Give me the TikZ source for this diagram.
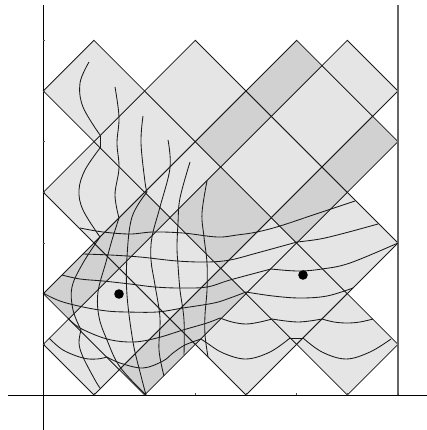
\documentclass[tikz,border=0pt]{standalone}
\begin{document}
\begin{tikzpicture}[x=1pt,y=-1pt,
  axisline/.style={black,line width=0.9pt},
  lightcell/.style={fill=black!10},
  darkcell/.style={fill=black!18},
  wave/.style={black!90,line width=0.85pt,smooth,tension=0.6},
  gridline/.style={black!90,line width=0.8pt}]
\useasboundingbox (0,0) rectangle (427,430);
\def\ux{50.67}
\def\ox{43.3}
\def\oy{395}
% cell in (p,q): p=x+y, q=y-x
\newcommand{\pq}[2]{({\ox+\ux*((#1)-(#2))/2},{\oy-\ux*((#1)+(#2))/2})}
\newcommand{\cell}[5]{\fill[#5] \pq{#1}{#3} -- \pq{#2}{#3} -- \pq{#2}{#4} -- \pq{#1}{#4} -- cycle;
  \draw[gridline] \pq{#1}{#3} -- \pq{#2}{#3} -- \pq{#2}{#4} -- \pq{#1}{#4} -- cycle;}
% light cells
\cell{1}{2}{-1}{1}{lightcell}
\cell{2}{4}{-1}{1}{lightcell}
\cell{4}{6}{-1}{1}{lightcell}
\cell{4}{6}{2}{4}{lightcell}
\cell{6}{8}{2}{4}{lightcell}
\cell{6}{8}{4}{6}{lightcell}
\cell{8}{10}{2}{4}{lightcell}
\cell{8}{10}{-1}{1}{lightcell}
\cell{10}{12}{-1}{1}{lightcell}
\cell{12}{13}{-1}{1}{lightcell}
\cell{6}{8}{1}{2}{lightcell}
\cell{6}{8}{-2}{-1}{lightcell}
\cell{4}{6}{-4}{-2}{lightcell}
\cell{6}{8}{-4}{-2}{lightcell}
\cell{8}{10}{-4}{-2}{lightcell}
\cell{6}{8}{-6}{-4}{lightcell}
% dark cells
\cell{2}{4}{-2}{-1}{darkcell}
\cell{4}{6}{-2}{-1}{darkcell}
\cell{8}{10}{-2}{-1}{darkcell}
\cell{10}{12}{-2}{-1}{darkcell}
\cell{2}{4}{1}{2}{darkcell}
\cell{4}{6}{1}{2}{darkcell}
\cell{8}{10}{1}{2}{darkcell}
\cell{10}{12}{1}{2}{darkcell}
\cell{6}{8}{-1}{1}{darkcell}
% axes
\draw[axisline] (8,395) -- (427,395);
\draw[axisline] (43.3,5) -- (43.3,430);
\draw[black!60,line width=1.2pt] (398,5) -- (398,395);
\foreach \k in {1,...,7}{
  \draw[black!70,line width=0.6pt] ({\ox+\ux*\k},395) -- ({\ox+\ux*\k},393);
  \draw[black!70,line width=0.6pt] (43.3,{\oy-\ux*\k}) -- (45.3,{\oy-\ux*\k});
}
% horizontal-like curves
\draw[wave] plot coordinates {(49,338) (63,350) (83,358) (97,359) (107,357)};
\draw[wave] plot coordinates {(107,357) (120,363) (143,368) (163,361) (173,353) (185,345) (201,339)};
\draw[wave] plot coordinates {(201,339) (207,343) (223,353) (246,359) (270,352) (290,338)};
\draw[gridline] (290,338) -- (303,338);
\draw[wave] plot coordinates {(303,338) (322,352) (346,359) (370,352) (391,339)};
\draw[wave] plot coordinates {(68,318) (80,328) (107,339) (133,342) (157,338) (183,330) (207,323) (220,318)};
\draw[wave] plot coordinates {(220,318) (232,322) (246,324) (260,322) (272,319)};
\draw[wave] plot coordinates {(272,319) (298,322) (322,319)};
\draw[wave] plot coordinates {(322,319) (334,322) (347,323) (360,322) (373,319)};
\draw[wave] plot coordinates {(43,293) (60,301) (83,307) (107,311) (127,312) (157,312) (183,308) (214,303) (230,298) (246,292)};
\draw[wave] plot coordinates {(246,292) (273,296) (300,298) (327,296) (353,288)};
\draw[wave] plot coordinates {(62,275) (80,279) (103,281) (130,284) (155,287) (180,288) (207,287) (230,280) (271,269)};
\draw[wave] plot coordinates {(271,269) (298,271) (322,269) (350,263) (398,243)};
\draw[wave] plot coordinates {(83,254) (110,255) (140,257) (177,261) (207,262) (230,260) (257,253) (297,242)};
\draw[wave] plot coordinates {(297,242) (320,239) (345,233) (378,224)};
\draw[wave] plot coordinates {(80,228) (103,232) (130,234) (153,232) (183,233) (217,237) (237,235) (257,232) (280,226) (313,215) (355,201)};
% vertical-like curves
\draw[wave] plot coordinates {(89,62) (80,83) (83,107) (100,135)};
\draw[gridline] (100,135) -- (100,148);
\draw[wave] plot coordinates {(100,148) (85,170) (79,190) (83,210) (100,237)};
\draw[wave] plot coordinates {(100,237) (83,263) (72,287) (73,310) (81,330)};
\draw[wave] plot coordinates {(81,330) (79,343) (83,357) (95,380) (100,388)};
\draw[wave] plot coordinates {(115,87) (119,117) (117,143) (119,168) (115,195) (119,218)};
\draw[wave] plot coordinates {(119,218) (112,240) (106,262) (98,292) (99,317) (107,340) (120,367) (146,395)};
\draw[wave] plot coordinates {(143,116) (141,143) (145,182) (147,192)};
\draw[wave] plot coordinates {(147,192) (132,217) (127,257) (127,295) (133,342) (140,372) (146,395)};
\draw[wave] plot coordinates {(168,140) (170,168) (160,207) (152,237) (151,260) (155,285) (160,318) (159,350) (164,376)};
\draw[wave] plot coordinates {(190,162) (180,198) (178,223) (177,247) (178,265) (180,290) (184,320) (184,355)};
\draw[wave] plot coordinates {(207,181) (202,213) (204,237) (207,263) (207,290) (205,315) (205,335) (208,357)};
% points
\fill[black] (119,294) circle (4.8);
\fill[black] (303,275) circle (4.8);
\end{tikzpicture}
\end{document}
